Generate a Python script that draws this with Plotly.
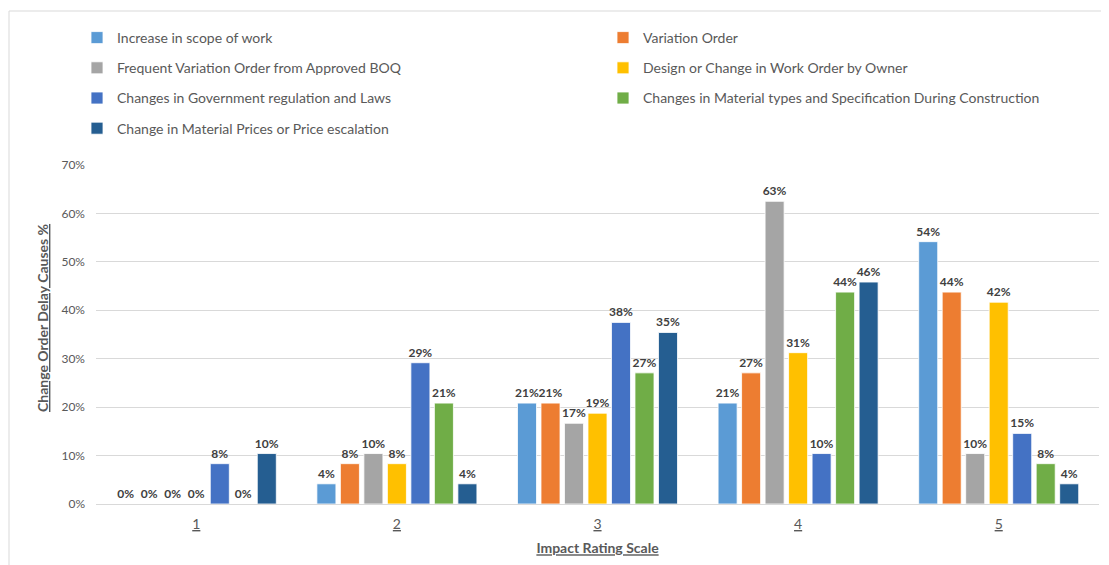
import plotly.graph_objects as go

categories = ["1", "2", "3", "4", "5"]
series_names = [
    "Increase in scope of work",
    "Variation Order",
    "Frequent Variation Order from Approved BOQ",
    "Design or Change in Work Order by Owner",
    "Changes in Government regulation and Laws",
    "Changes in Material types and Specification During Construction",
    "Change in Material Prices or Price escalation",
]
# values in percent, per series across the 5 rating categories
increase_scope = [0.00, 4.17, 20.83, 20.83, 54.17]
variation_order = [0.00, 8.33, 20.83, 27.08, 43.75]
frequent_vo_boq = [0.00, 10.42, 16.67, 62.50, 10.42]
design_change_owner = [0.00, 8.33, 18.75, 31.25, 41.67]
govt_regulation = [8.33, 29.17, 37.50, 10.42, 14.58]
material_types = [0.00, 20.83, 27.08, 43.75, 8.33]
material_prices = [10.42, 4.17, 35.42, 45.83, 4.17]

series_values = [increase_scope, variation_order, frequent_vo_boq, design_change_owner,
                 govt_regulation, material_types, material_prices]
colors = ["#5B9BD5", "#ED7D31", "#A5A5A5", "#FFC000", "#4472C4", "#70AD47", "#255E91"]

y_ticks = [0, 10, 20, 30, 40, 50, 60, 70]
y_tick_labels = [f"{v}%" for v in y_ticks]

FONT = "Lato"
fig = go.Figure()
for i, (name, vals, col) in enumerate(zip(series_names, series_values, colors)):
    fig.add_trace(go.Bar(
        x=categories,
        y=[v / 100 for v in vals],
        name=name,
        marker=dict(color=col, line=dict(color="white", width=0.8)),
        texttemplate="%{y:.0%}",
        textposition="outside",
        constraintext="none",
        textfont=dict(family=FONT, size=12, color="#404040", weight="bold"),
        cliponaxis=False,
        legend="legend" if i % 2 == 0 else "legend2",
        legendgroup=f"g{i}",
    ))

# page body has an 8px margin; work in screen pixels and convert
OFF = 8
SCR_W, SCR_H = 1109, 565
W, H = SCR_W - OFF, SCR_H - OFF
PL, PR, PT, PB = 96, 1099, 165, 504  # plot area in screen pixels
L, R, T, B = PL - OFF, SCR_W - PR, PT - OFF, SCR_H - PB
pw, ph = PR - PL, PB - PT

def px_x(p):
    return (p - PL) / pw

def px_y(p):
    return (PB - p) / ph

leg_common = dict(
    orientation="v",
    xref="paper", yref="paper",
    yanchor="top", xanchor="left",
    font=dict(family=FONT, size=14, color="#595959"),
    tracegroupgap=9,
    bgcolor="rgba(0,0,0,0)",
    itemclick=False, itemdoubleclick=False,
)

fig.update_layout(
    width=W, height=H,
    margin=dict(l=L, r=R, t=T, b=B, autoexpand=False),
    paper_bgcolor="white", plot_bgcolor="white",
    barmode="group", bargap=0.18, bargroupgap=0.19,
    font=dict(family=FONT, color="#595959"),
    legend=dict(x=px_x(117 - 40), y=px_y(22), **leg_common),
    legend2=dict(x=px_x(643 - 40), y=px_y(22), **leg_common),
    xaxis=dict(
        tickmode="array", tickvals=categories,
        ticktext=[f"<u>{c}</u>" for c in categories],
        tickfont=dict(family=FONT, size=14, color="#595959"),
        showgrid=False, zeroline=False, showline=False, ticks="",
        ticklabelstandoff=10,
        title=dict(text="<b><u>Impact Rating Scale</u></b>",
                   font=dict(family=FONT, size=14, color="#595959"), standoff=12),
    ),
    yaxis=dict(
        range=[0, 0.7], tickvals=[v / 100 for v in y_ticks], ticktext=y_tick_labels,
        tickfont=dict(family=FONT, size=12, color="#595959"),
        showgrid=True, gridcolor="#D9D9D9", gridwidth=1,
        zeroline=True, zerolinecolor="#D9D9D9", zerolinewidth=1,
        showline=False, ticks="", ticklabelstandoff=10,
    ),
    annotations=[dict(
        text="<b><u>Change Order Delay Causes %</u></b>",
        textangle=-90, xref="paper", yref="paper",
        x=px_x(42), y=px_y(318), xanchor="center", yanchor="middle",
        showarrow=False,
        font=dict(family=FONT, size=14, color="#595959"),
    )],
    shapes=[dict(
        type="rect", xref="paper", yref="paper",
        x0=px_x(9), x1=px_x(1108), y0=px_y(620), y1=px_y(11),
        line=dict(color="#D9D9D9", width=1), fillcolor="rgba(0,0,0,0)", layer="below",
    )],
)

fig.write_html("out.html")
